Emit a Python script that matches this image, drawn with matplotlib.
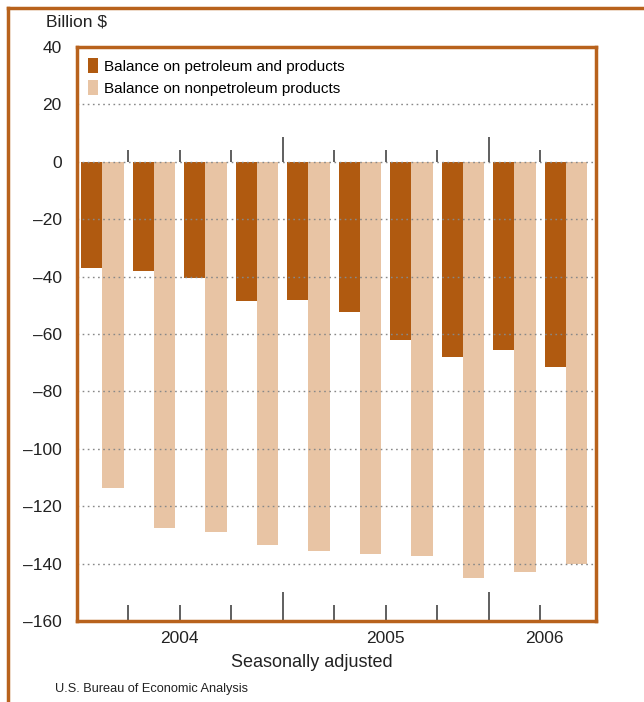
import numpy as np
import matplotlib
matplotlib.use("Agg")
import matplotlib.pyplot as plt

plt.rcParams['font.family'] = ['Liberation Sans', 'DejaVu Sans']

quarters = ['2004Q1', '2004Q2', '2004Q3', '2004Q4',
            '2005Q1', '2005Q2', '2005Q3', '2005Q4',
            '2006Q1', '2006Q2']
petroleum = [-37, -38, -40.5, -48.5, -48, -52.5, -62, -68, -65.5, -71.5]
nonpetroleum = [-113.5, -127.5, -129, -133.5, -135.5, -136.5, -137.5, -145, -143, -140]
years = ['2004', '2005', '2006']
year_centers = [1.98, 6.0, 9.08]
yticks = [40, 20, 0, -20, -40, -60, -80, -100, -120, -140, -160]
ytick_labels = ['40', '20', '0', '–20', '–40', '–60', '–80', '–100', '–120', '–140', '–160']

c_pet = '#B05A10'
c_non = '#E8C4A4'
c_frame = '#B8621C'

fig = plt.figure(figsize=(6.44, 7.02), dpi=100)

# outer frame (top and left edge only)
fig.add_artist(plt.Line2D([8/644, 1.0], [1 - 8/702, 1 - 8/702], color=c_frame, lw=2.5))
fig.add_artist(plt.Line2D([8/644, 8/644], [0, 1 - 8/702], color=c_frame, lw=2.5))

ax = fig.add_axes([77/644, 81/702, 519/644, 574/702])

x = np.arange(len(quarters))
ax.bar(x + 0.08, petroleum, width=0.41, align='edge', color=c_pet, zorder=1,
       label='Balance on petroleum and products')
ax.bar(x + 0.49, nonpetroleum, width=0.42, align='edge', color=c_non, zorder=1,
       label='Balance on nonpetroleum products')

ax.set_xlim(0, 10.08)
ax.set_ylim(-160, 40)

# gridlines over the bars
for v in yticks[1:-1]:
    ax.axhline(v, color='#888888', lw=1, ls=(0, (1.2, 2.5)), zorder=2)

# quarter ticks at zero line
for b in range(1, 10):
    h = 8.8 if b % 4 == 0 else 4.2
    ax.vlines(b, 0, h, color='#444444', lw=1.2, zorder=3)

# bottom ticks
ax.set_xticks([4, 8])
ax.set_xticks([1, 2, 3, 5, 6, 7, 9], minor=True)
ax.tick_params(axis='x', which='major', direction='in', length=21, width=1.2,
               color='#444444', labelbottom=False)
ax.tick_params(axis='x', which='minor', direction='in', length=11.5, width=1.2,
               color='#444444')
for yr, xc in zip(years, year_centers):
    ax.text(xc, -163.5, yr, ha='center', va='top', fontsize=12.5, color='#222222')
ax.text(4.56, -171.5, 'Seasonally adjusted', ha='center', va='top', fontsize=13,
        color='#222222')

ax.set_yticks(yticks)
ax.set_yticklabels(ytick_labels)
ax.tick_params(axis='y', length=0, pad=11, labelsize=12.5, labelcolor='#222222')
for lab in ax.get_yticklabels():
    lab.set_horizontalalignment('right')

for s in ax.spines.values():
    s.set_color(c_frame)
    s.set_linewidth(2.5)

ax.legend(loc='upper left', bbox_to_anchor=(0.0, 1.0), frameon=False,
          fontsize=11, handlelength=0.65, handleheight=1.2, handletextpad=0.4,
          labelspacing=0.4, borderaxespad=0.3)

fig.text(46/644, 1 - 22/702, 'Billion $', ha='left', va='center', fontsize=12.5,
         color='#222222')
fig.text(55/644, 1 - 689/702, 'U.S. Bureau of Economic Analysis', ha='left',
         va='center', fontsize=9.2, color='#222222')

fig.savefig('out.png', dpi=100)
